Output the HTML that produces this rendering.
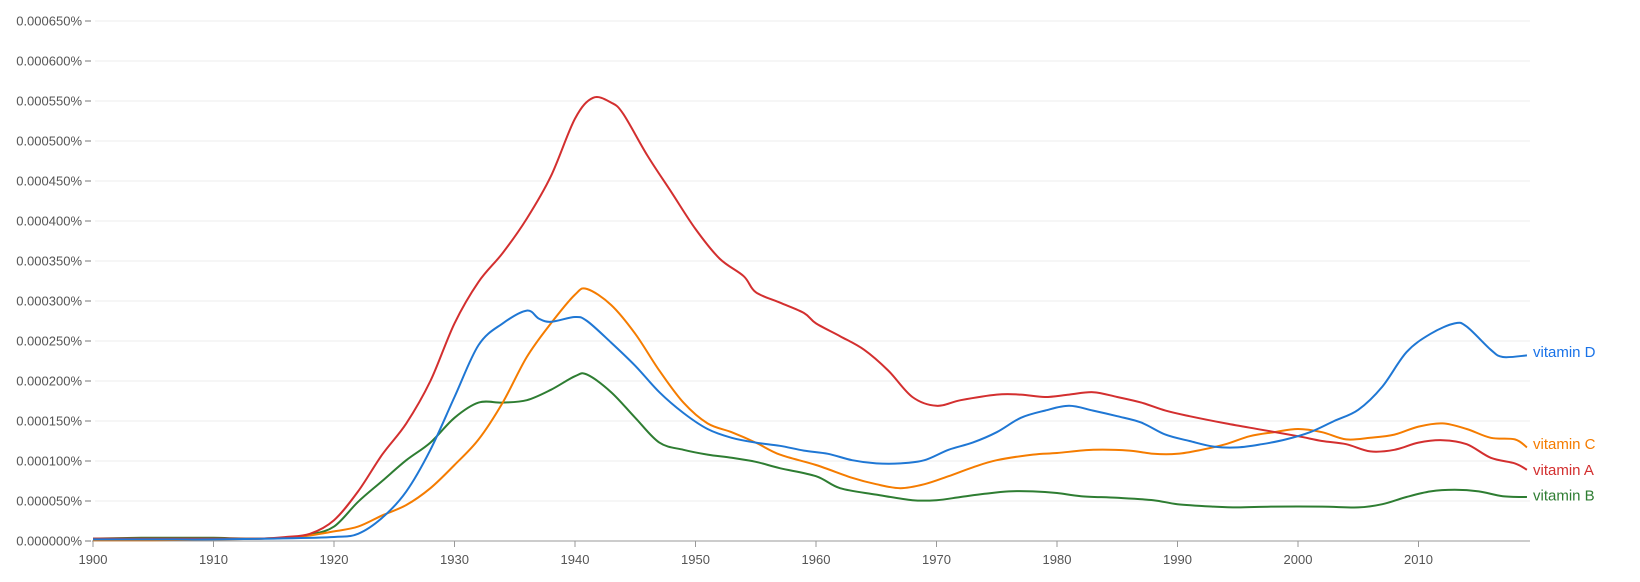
<!DOCTYPE html>
<html><head><meta charset="utf-8"><style>
html,body{margin:0;padding:0;background:#fff;width:1640px;height:582px;overflow:hidden}
svg{display:block}
text{font-family:"Liberation Sans",sans-serif}
</style></head><body>
<svg id="s" width="1640" height="582" xmlns="http://www.w3.org/2000/svg"></svg>
<script>
const s=document.getElementById('s');
const X=y=>93+(y-1900)*12.05, Y=v=>541-v*0.8;
let h='';
for(let i=0;i<=13;i++){const v=i*50,y=Y(v);
 if(i>0)h+=`<line x1="95" x2="1530" y1="${y}" y2="${y}" stroke="#eee" stroke-width="1"/>`;
 h+=`<line x1="85" x2="91" y1="${y}" y2="${y}" stroke="#777" stroke-width="1"/>`;
 h+=`<text x="82" y="${y+4.5}" font-size="13" fill="#555" text-anchor="end">0.000${String(v).padStart(3,'0')}%</text>`;}
h+=`<line x1="92" x2="1530" y1="541" y2="541" stroke="#999" stroke-width="1"/>`;
for(let yr=1900;yr<=2010;yr+=10){const x=X(yr);
 h+=`<line x1="${x}" x2="${x}" y1="541" y2="547" stroke="#999"/>`;
 h+=`<text x="${x}" y="564" font-size="13" fill="#555" text-anchor="middle">${yr}</text>`;}
const D={
A:["#d32f2f",[[1900,3],[1905,3],[1910,3],[1914,3],[1916,5],[1918,9],[1920,26],[1922,62],[1924,108],[1926,147],[1928,200],[1930,272],[1932,324],[1934,360],[1936,403],[1938,456],[1940,528],[1941.5,554],[1943,548],[1944,534],[1946,482],[1948,436],[1950,390],[1952,353],[1954,331],[1955,311],[1957,298],[1959,285],[1960,272],[1962,256],[1964,239],[1966,213],[1968,180],[1970,169],[1972,176],[1975,183],[1977,183],[1979,180],[1981,183],[1983,186],[1985,180],[1987,173],[1989,163],[1991,156],[1994,147],[1997,139],[2000,131],[2002,125],[2004,121],[2006,112],[2008,114],[2010,123],[2012,126],[2014,121],[2016,104],[2018,97],[2019,89]],"vitamin A",89],
C:["#f57c00",[[1900,1],[1905,1],[1910,2],[1914,3],[1917,5],[1920,12],[1922,18],[1924,32],[1926,45],[1928,66],[1930,95],[1932,127],[1934,173],[1936,230],[1938,272],[1940,308],[1941,315],[1943,295],[1945,259],[1947,213],[1949,173],[1951,147],[1953,136],[1955,123],[1957,108],[1960,95],[1963,79],[1965,71],[1967,66],[1969,71],[1971,81],[1973,92],[1975,101],[1978,108],[1980,110],[1983,114],[1986,113],[1988,109],[1990,109],[1992,114],[1994,121],[1996,131],[1998,136],[2000,140],[2002,136],[2004,127],[2006,129],[2008,133],[2010,143],[2012,147],[2014,140],[2016,129],[2018,127],[2019,117]],"vitamin C",121],
D:["#1f77d4",[[1900,2],[1905,2],[1910,2],[1915,3],[1920,5],[1922,9],[1924,29],[1926,62],[1928,114],[1930,180],[1932,245],[1934,272],[1936,288],[1937,278],[1938,274],[1940,280],[1941,275],[1943,248],[1945,219],[1947,186],[1949,160],[1951,140],[1953,129],[1955,123],[1957,119],[1959,113],[1961,109],[1963,101],[1965,97],[1967,97],[1969,101],[1971,114],[1973,123],[1975,136],[1977,154],[1979,163],[1981,169],[1983,163],[1985,156],[1987,148],[1989,133],[1991,125],[1993,118],[1995,117],[1997,121],[1999,127],[2001,136],[2003,150],[2005,164],[2007,193],[2009,236],[2011,259],[2013,272],[2014,268],[2016,239],[2017,230],[2019,232]],"vitamin D",236],
B:["#2e7d32",[[1900,3],[1904,4],[1907,4],[1910,4],[1913,3],[1916,4],[1918,8],[1920,18],[1922,49],[1924,75],[1926,101],[1928,123],[1930,154],[1932,173],[1934,173],[1936,176],[1938,189],[1940,206],[1941,208],[1943,186],[1945,154],[1947,123],[1949,114],[1951,108],[1953,104],[1955,99],[1957,91],[1960,81],[1962,66],[1965,58],[1968,51],[1970,51],[1972,55],[1974,59],[1976,62],[1978,62],[1980,60],[1982,56],[1985,54],[1988,51],[1990,46],[1993,43],[1995,42],[1998,43],[2002,43],[2005,42],[2007,46],[2009,55],[2011,62],[2013,64],[2015,62],[2017,56],[2019,55]],"vitamin B",57]};
function path(p){const q=p.map(([a,b])=>[X(a),Y(b)]);let d=`M${q[0][0]},${q[0][1]}`;
 for(let i=0;i<q.length-1;i++){const p0=q[i-1]||q[i],p1=q[i],p2=q[i+1],p3=q[i+2]||p2;
  d+=` C${p1[0]+(p2[0]-p0[0])/6},${p1[1]+(p2[1]-p0[1])/6} ${p2[0]-(p3[0]-p1[0])/6},${p2[1]-(p3[1]-p1[1])/6} ${p2[0]},${p2[1]}`;}
 return d;}
const LC={A:"#d32f2f",B:"#2e7d32",C:"#f57c00",D:"#1a73e8"};
for(const k of ["B","C","A","D"]){const [c,p,l,lv]=D[k];
 h+=`<path d="${path(p)}" fill="none" stroke="${c}" stroke-width="2"/>`;
 h+=`<text x="1533" y="${Y(lv)+5}" font-size="15" fill="${LC[k]}">${l}</text>`;}
s.innerHTML=h;
</script>
</body></html>
